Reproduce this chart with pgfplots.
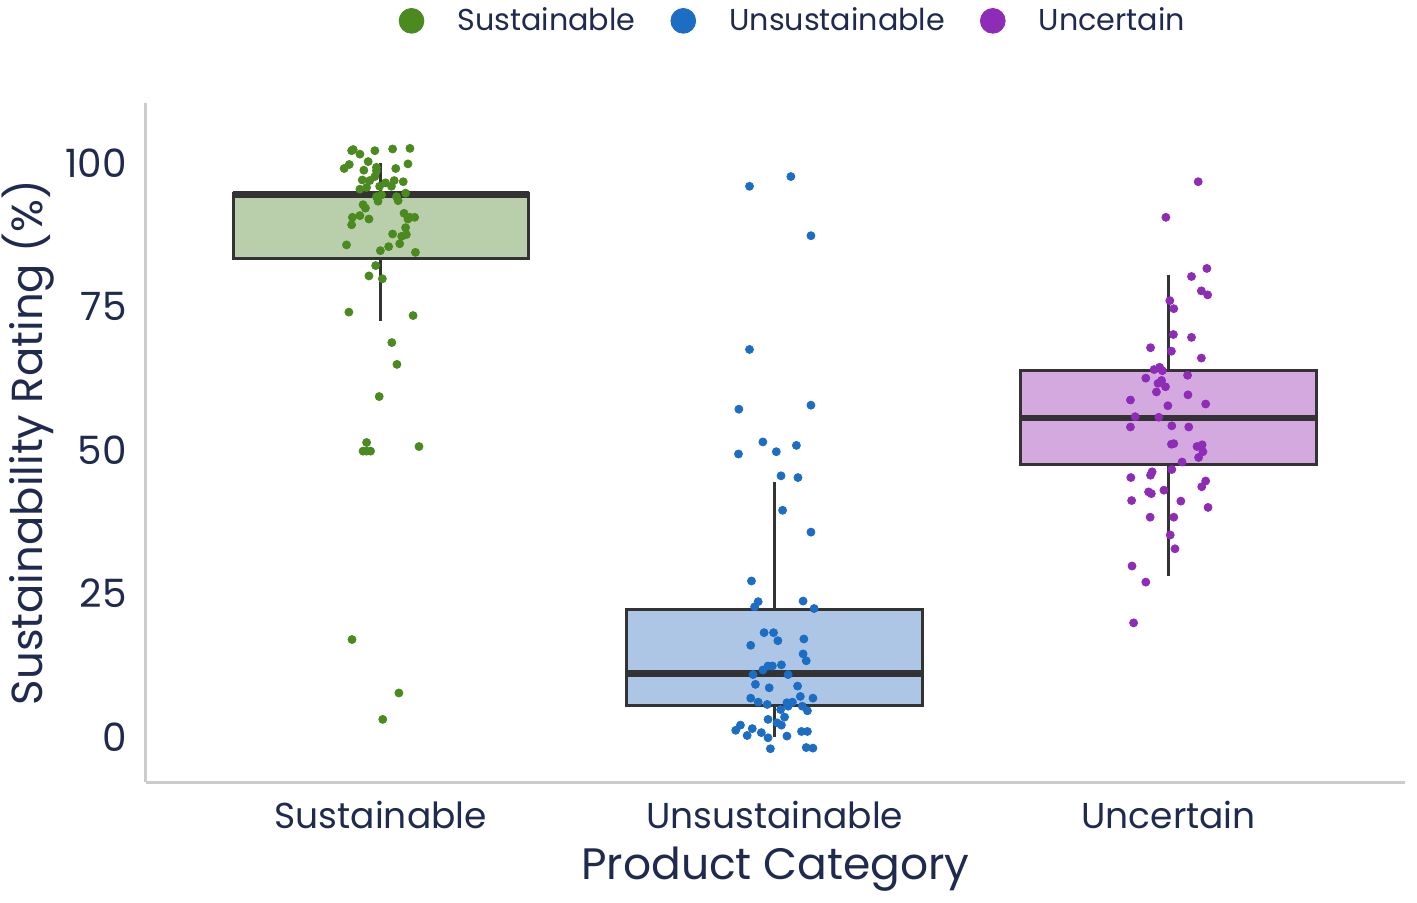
\documentclass[border=0pt]{standalone}
\usepackage{pgfplots}
\usepackage{pgfplotstable}
\pgfplotsset{compat=1.18}
\usepackage{fontspec}
\setmainfont{Poppins}
\definecolor{txt}{HTML}{1F2A4E}
\definecolor{spine}{HTML}{CCCCCC}
\definecolor{edge}{HTML}{333333}
\definecolor{gpt}{HTML}{4A8A1E}
\definecolor{gbox}{HTML}{B9CFAC}
\definecolor{bpt}{HTML}{1C6DC4}
\definecolor{bbox}{HTML}{ADC6E6}
\definecolor{ppt}{HTML}{8E2CB8}
\definecolor{pbox}{HTML}{D4A9E0}

\pgfplotstableread{
x y
-0.070 102.3
-0.074 102.1
-0.053 101.5
-0.015 102.1
0.030 102.4
0.074 102.5
-0.080 99.7
-0.093 99.0
-0.032 100.2
-0.043 98.7
-0.011 99.2
-0.011 98.6
0.038 99.0
0.069 99.8
-0.047 97.0
-0.028 96.9
-0.015 97.6
0.012 96.5
0.034 96.9
0.057 96.7
-0.003 95.9
0.027 95.9
-0.053 95.4
-0.036 95.7
0.063 94.7
0.002 94.4
-0.011 94.1
0.040 94.1
-0.007 93.3
0.044 93.4
-0.045 92.7
-0.039 92.1
-0.072 90.5
-0.053 90.8
-0.030 90.2
-0.074 89.2
0.059 91.2
0.069 90.2
0.074 90.5
0.086 90.5
0.063 88.7
0.065 87.5
0.053 87.2
0.030 87.6
-0.087 85.7
0.048 85.9
0.020 85.4
-0.001 84.7
0.088 84.4
-0.013 82.1
-0.030 80.3
0.004 79.8
-0.081 74.0
0.082 73.4
0.028 68.7
0.041 64.9
-0.004 59.3
-0.036 51.3
-0.045 49.8
-0.036 49.8
-0.026 49.8
0.097 50.6
-0.073 17.0
0.046 7.7
0.005 3.1
}\sust

\pgfplotstableread{
x y
0.936 95.9
1.041 97.6
1.092 87.3
0.936 67.5
0.909 57.1
1.092 57.8
0.970 51.4
0.908 49.3
1.004 49.7
1.055 50.8
1.016 45.5
1.059 45.2
1.020 39.5
1.092 35.7
0.941 27.2
0.958 23.6
0.949 22.7
1.072 23.7
1.100 22.4
0.973 18.2
0.997 18.2
1.008 16.8
0.939 16.0
1.074 17.1
1.072 14.5
1.080 13.3
0.970 11.7
0.983 12.4
0.994 12.4
1.017 12.6
0.945 10.9
1.034 10.9
0.951 9.2
0.986 8.6
1.058 8.9
0.939 6.8
0.958 6.1
0.981 5.7
1.065 7.1
1.097 6.8
1.031 6.0
1.045 6.1
1.034 5.4
1.070 5.4
1.015 4.8
1.083 4.6
1.025 3.5
0.983 3.1
1.006 2.5
1.017 2.1
0.913 2.1
0.901 1.2
0.943 1.5
0.966 0.8
0.930 0.3
0.983 -0.1
1.031 0.2
1.068 1.0
1.083 1.0
0.989 -2.0
1.080 -1.8
1.097 -1.9
}\unsust

\pgfplotstableread{
x y
2.075 96.7
1.993 90.5
2.097 81.6
2.058 80.2
2.083 77.7
2.099 77.0
2.003 76.0
2.013 74.6
2.012 70.1
2.058 69.6
1.954 67.8
2.007 67.2
2.083 66.0
1.963 64.0
1.977 64.4
1.984 63.8
1.942 62.5
2.048 63.0
1.982 62.1
1.973 61.6
1.992 61.0
1.969 60.1
2.049 59.6
1.903 58.7
1.998 57.7
2.094 58.0
1.915 55.8
1.975 55.7
1.903 54.0
2.008 54.2
2.051 54.0
2.007 51.0
2.013 51.1
2.072 50.6
2.085 50.9
2.087 49.7
2.076 48.7
2.034 47.9
2.008 46.6
1.958 46.2
1.954 45.6
1.904 45.2
2.094 44.6
2.084 43.6
1.949 42.7
1.956 42.4
1.988 43.0
1.906 41.2
2.031 41.1
2.100 40.0
1.953 38.3
2.013 38.3
2.004 35.2
2.016 32.8
1.907 29.8
1.942 27.0
1.911 19.9
}\unc

\begin{document}
\begin{tikzpicture}
\begin{axis}[
  scale only axis, width=629.5pt, height=339.5pt,
  xmin=-0.596, xmax=2.60, ymin=-7.8, ymax=110.4,
  axis lines=left,
  axis line style={-, spine, line width=1.5pt},
  xtick={0,1,2},
  xticklabels={Sustainable,Unsustainable,Uncertain},
  ytick={0,25,50,75,100},
  major tick length=0pt,
  tick label style={text=txt},
  /pgf/number format/assume math mode=true,
  yticklabel style={font=\fontsize{19.5pt}{22pt}\selectfont, anchor=east, inner sep=0pt, xshift=-9.5pt},
  xticklabel style={font=\fontsize{18pt}{22pt}\selectfont, anchor=base, inner sep=0pt, yshift=-23pt},
  xlabel={Product Category},
  ylabel={Sustainability Rating (\%)},
  xlabel style={text=txt, font=\fontsize{22pt}{26pt}\selectfont,
    at={(axis description cs:0.5,-0.1443)}, anchor=base, inner sep=0pt},
  ylabel style={text=txt, font=\fontsize{21.7pt}{26pt}\selectfont,
    at={(axis description cs:-0.0826,0.5)}, anchor=base, inner sep=0pt},
  clip=false,
  legend columns=3,
  legend style={draw=none, fill=none, at={(0.513,1.121)}, anchor=center,
    font=\fontsize{15.1pt}{18pt}\selectfont, text=txt,
    nodes={inner sep=0pt},
    /tikz/every odd column/.append style={column sep=0pt},
    /tikz/every even column/.append style={column sep=17.5pt}},
  legend image code/.code={%
    \fill[#1] (0pt,0pt) circle (6.2pt);
    \path[draw=none, fill=none] (-6.2pt,-6.2pt) rectangle (23pt,6.2pt);},
  legend cell align=left,
]
\addlegendimage{color=gpt}
\addlegendentry{Sustainable}
\addlegendimage{color=bpt}
\addlegendentry{Unsustainable}
\addlegendimage{color=ppt}
\addlegendentry{Uncertain}

% Sustainable box
\addplot[draw=edge, line width=1.6pt, forget plot] coordinates {(0,72.5) (0,83.4)};
\addplot[draw=edge, line width=1.6pt, forget plot] coordinates {(0,94.7) (0,100)};
\addplot[draw=edge, fill=gbox, line width=1.5pt, forget plot] coordinates {(-0.375,83.4) (0.375,83.4) (0.375,94.7) (-0.375,94.7)} -- cycle;
\addplot[draw=edge, line width=3.3pt, forget plot] coordinates {(-0.375,94.5) (0.375,94.5)};
% Unsustainable box
\addplot[draw=edge, line width=1.6pt, forget plot] coordinates {(1,0) (1,5.6)};
\addplot[draw=edge, line width=1.6pt, forget plot] coordinates {(1,22.3) (1,44.4)};
\addplot[draw=edge, fill=bbox, line width=1.5pt, forget plot] coordinates {(0.625,5.6) (1.375,5.6) (1.375,22.3) (0.625,22.3)} -- cycle;
\addplot[draw=edge, line width=3.3pt, forget plot] coordinates {(0.625,11.1) (1.375,11.1)};
% Uncertain box
\addplot[draw=edge, line width=1.6pt, forget plot] coordinates {(2,28.0) (2,47.4)};
\addplot[draw=edge, line width=1.6pt, forget plot] coordinates {(2,63.9) (2,80.5)};
\addplot[draw=edge, fill=pbox, line width=1.5pt, forget plot] coordinates {(1.625,47.4) (2.375,47.4) (2.375,63.9) (1.625,63.9)} -- cycle;
\addplot[draw=edge, line width=3.3pt, forget plot] coordinates {(1.625,55.6) (2.375,55.6)};

\addplot[only marks, mark=*, mark size=2pt, color=gpt, forget plot] table[x=x, y=y] {\sust};
\addplot[only marks, mark=*, mark size=2pt, color=bpt, forget plot] table[x=x, y=y] {\unsust};
\addplot[only marks, mark=*, mark size=2pt, color=ppt, forget plot] table[x=x, y=y] {\unc};
\end{axis}
\pgfresetboundingbox
\path[use as bounding box] (current axis.south west) ++(-73pt,-60pt) rectangle ++(708.5pt,451pt);
\end{tikzpicture}
\end{document}
